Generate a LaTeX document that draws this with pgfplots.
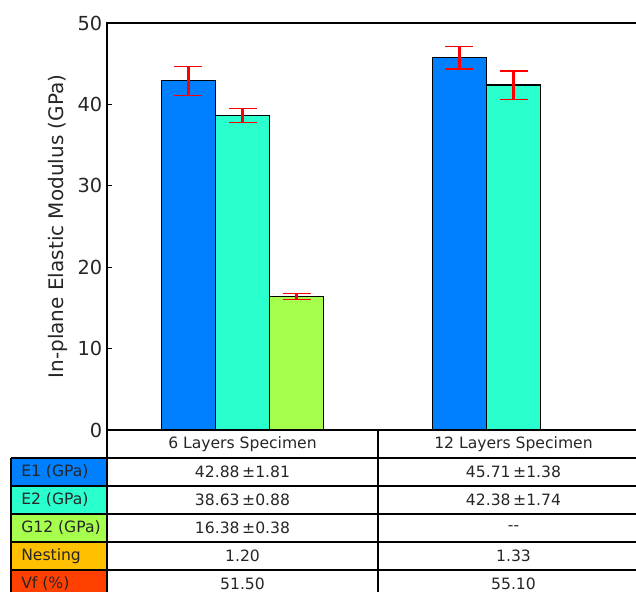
\documentclass[border=0pt]{standalone}
\usepackage{fontspec}
\setmainfont{DejaVu Sans}
\usepackage{pgfplots}
\pgfplotsset{compat=1.18}
\definecolor{cE1}{RGB}{0,128,255}
\definecolor{cE2}{RGB}{42,255,206}
\definecolor{cG}{RGB}{166,255,77}
\definecolor{cN}{RGB}{255,192,0}
\definecolor{cV}{RGB}{255,64,0}
\begin{document}
\begin{tikzpicture}
\useasboundingbox (0pt,0pt) rectangle (477pt,444pt);
\clip (0pt,0pt) rectangle (477pt,444pt);
\begin{axis}[
  at={(80.25pt,121.5pt)}, anchor=south west,
  scale only axis, width=406.5pt, height=305.25pt,
  xmin=-0.5, xmax=1.5, ymin=0, ymax=50,
  ytick={0,10,20,30,40,50}, xtick=\empty,
  tick align=inside, major tick length=4pt,
  tick style={black, line width=0.7pt},
  axis line style={black, line width=0.9pt},
  /pgf/number format/assume math mode=true,
  yticklabel style={font=\fontsize{14.5}{17}\selectfont, text=black!85},
  ylabel={In-plane Elastic Modulus (GPa)},
  every axis y label/.style={at={(axis description cs:-0.0904,0.5)}, anchor=center, rotate=90, font=\fontsize{15}{18}\selectfont, text=black!85},
  error bars/error bar style={red, line width=2.2pt},
  error bars/error mark options={red, line width=1pt, mark size=10.5pt, rotate=90},
]
\addplot[ybar, bar width=0.2, bar shift=0pt, fill=cE1, draw=black, line width=0.8pt,
  error bars/.cd, y dir=both, y explicit]
  coordinates {(-0.2,42.88) +- (0,1.81) (0.8,45.71) +- (0,1.38)};
\addplot[ybar, bar width=0.2, bar shift=0pt, fill=cE2, draw=black, line width=0.8pt,
  error bars/.cd, y dir=both, y explicit]
  coordinates {(0,38.63) +- (0,0.88) (1.0,42.38) +- (0,1.74)};
\addplot[ybar, bar width=0.2, bar shift=0pt, fill=cG, draw=black, line width=0.8pt,
  error bars/.cd, y dir=both, y explicit]
  coordinates {(0.2,16.38) +- (0,0.38)};
\end{axis}
\begin{scope}[x=0.75pt,y=0.75pt]
\fill[cE1] (11,106) rectangle (107,134);
\fill[cE2] (11,78) rectangle (107,106);
\fill[cG] (11,50) rectangle (107,78);
\fill[cN] (11,22) rectangle (107,50);
\fill[cV] (11,-6) rectangle (107,22);
\begin{scope}[line width=1.1pt, black]
\draw (107,162) -- (649,162);
\draw (11,134) -- (649,134);
\draw (11,106) -- (649,106);
\draw (11,78) -- (649,78);
\draw (11,50) -- (649,50);
\draw (11,22) -- (649,22);
\draw (11,-6) -- (649,-6);
\draw (107,162) -- (107,-6);
\draw (378,162) -- (378,-6);
\draw (11,134) -- (11,-6);
\end{scope}
\begin{scope}[every node/.style={font=\fontsize{11.7}{14}\selectfont, text=black!85, inner sep=0pt}]
\node at (242.5,148) {6 Layers Specimen};
\node at (513.5,148) {12 Layers Specimen};
\node[anchor=west] at (21,120) {E1 (GPa)};
\node[anchor=west] at (21,92) {E2 (GPa)};
\node[anchor=west] at (21,64) {G12 (GPa)};
\node[anchor=west] at (21,36) {Nesting};
\node[anchor=west] at (21,8) {Vf (\%)};
\node at (242.5,120) {42.88\,±1.81};
\node at (513.5,120) {45.71\,±1.38};
\node at (242.5,92) {38.63\,±0.88};
\node at (513.5,92) {42.38\,±1.74};
\node at (242.5,64) {16.38\,±0.38};
\node at (513.5,64) {-{}-};
\node at (242.5,36) {1.20};
\node at (513.5,36) {1.33};
\node at (242.5,8) {51.50};
\node at (513.5,8) {55.10};
\end{scope}
\end{scope}
\end{tikzpicture}
\end{document}
